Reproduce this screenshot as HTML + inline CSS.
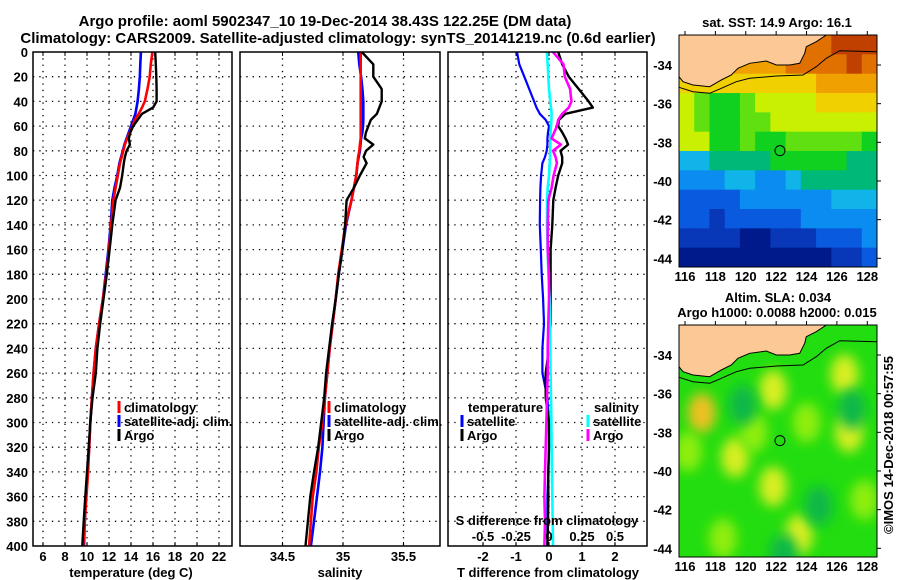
<!DOCTYPE html>
<html><head><meta charset="utf-8"><style>
html,body{margin:0;padding:0;background:#fff;}
svg{display:block;font-family:"Liberation Sans",sans-serif;font-weight:bold;}
text{font-size:13px;fill:#000;}
</style></head><body>
<svg id="fig" width="900" height="580" viewBox="0 0 900 580" xmlns="http://www.w3.org/2000/svg">
<text x="325" y="26" text-anchor="middle" style="font-size:15px">Argo profile: aoml 5902347_10 19-Dec-2014 38.43S 122.25E (DM data)</text>
<text x="338" y="43" text-anchor="middle" style="font-size:15px">Climatology: CARS2009. Satellite-adjusted climatology: synTS_20141219.nc (0.6d earlier)</text>
<g id="plots"></g>
</svg>
<script>
const depths=[0,10,20,30,40,45,50,55,60,65,70,75,80,85,90,100,110,120,140,160,180,200,220,240,260,280,300,320,340,360,380,400];
const tempClim=[15.95,15.8,15.7,15.5,15.25,15.0,14.7,14.35,14.15,13.9,13.65,13.45,13.3,13.15,13.0,12.8,12.6,12.4,12.2,12.0,11.75,11.45,11.1,10.8,10.6,10.45,10.3,10.2,10.1,9.95,9.8,9.65];
const tempSat=[14.9,14.85,14.8,14.72,14.6,14.5,14.4,14.2,14.0,13.8,13.6,13.4,13.25,13.1,12.95,12.75,12.5,12.3,12.15,11.95,11.7,11.45,11.1,10.8,10.6,10.45,10.3,10.2,10.05,9.9,9.8,9.73];
const tempArgo=[16.2,16.25,16.3,16.33,16.33,16.0,15.0,14.6,14.2,13.95,13.8,13.9,13.6,13.45,13.35,13.2,13.0,12.6,12.3,12.05,11.8,11.5,11.2,10.95,10.8,10.5,10.3,10.15,10.0,9.85,9.7,9.57];
const salClim=[35.146,35.146,35.146,35.146,35.146,35.146,35.146,35.146,35.146,35.146,35.146,35.14,35.135,35.125,35.12,35.11,35.09,35.07,35.02,34.99,34.96,34.94,34.915,34.89,34.87,34.85,34.83,34.8,34.78,34.75,34.735,34.72];
const salSat=[35.126,35.135,35.15,35.16,35.168,35.168,35.168,35.168,35.165,35.16,35.15,35.145,35.14,35.13,35.12,35.11,35.09,35.07,35.025,34.995,34.965,34.94,34.915,34.89,34.87,34.85,34.84,34.83,34.81,34.785,34.76,34.735];
const salArgo=[35.155,35.25,35.25,35.32,35.32,35.3,35.28,35.23,35.21,35.19,35.18,35.25,35.19,35.17,35.195,35.14,35.09,35.03,35.017,34.995,34.965,34.94,34.91,34.885,34.86,34.845,34.82,34.795,34.76,34.73,34.71,34.69];
const dTSat=[-0.97,-0.9,-0.75,-0.6,-0.45,-0.38,-0.28,-0.1,0,-0.03,-0.05,-0.05,-0.07,-0.12,-0.2,-0.24,-0.26,-0.27,-0.28,-0.25,-0.22,-0.18,-0.15,-0.2,-0.2,-0.05,0,0,-0.02,-0.05,-0.05,-0.05];
const dTArgo=[0.28,0.4,0.6,0.9,1.2,1.33,0.5,0.3,0.28,0.4,0.5,0.58,0.35,0.4,0.4,0.28,0.2,0.13,0.1,0.05,0.05,0.05,0.05,0.0,-0.1,-0.1,0.0,0.0,-0.02,-0.02,-0.03,-0.05];
const dSSat=[-0.017,-0.01,-0.005,0.0,0.01,0.015,0.02,0.018,0.015,0.012,0.01,0.01,0.01,0.008,0.005,0.0,-0.01,-0.015,-0.015,-0.01,-0.005,0.005,0.008,0.01,0.012,0.015,0.018,0.02,0.022,0.025,0.028,0.03];
const dSArgo=[0.03,0.11,0.12,0.16,0.17,0.15,0.1,0.07,0.06,0.04,0.02,0.09,0.03,0.05,0.06,0.035,0.02,-0.005,-0.01,-0.01,0.0,0.0,-0.005,-0.01,-0.01,-0.015,-0.02,-0.025,-0.03,-0.035,-0.03,-0.035];
const depthTicks=[0,20,40,60,80,100,120,140,160,180,200,220,240,260,280,300,320,340,360,380,400];
const tempTicks=[6,8,10,12,14,16,18,20,22];
const salTicks=[34.5,35,35.5];
const salTickLabels=["34.5","35","35.5"];
const dTTicks=[-2,-1,0,1,2];
const dSTicks=[-0.5,-0.25,0,0.25,0.5];
const dSTickLabels=["-0.5","-0.25","0","0.25","0.5"];
const lonTicks=[116,118,120,122,124,126,128];
const latTicks=[-34,-36,-38,-40,-42,-44];
const sstGrid=[
[10,10,10,10,10,10,10,10,11,11,12,12,12],
[10,10,10,10,10,10,10,11,11,11,11,12,11],
[9,9,9,9,9,9,9,9,9,10,10,10,10],
[8,7,6,6,7,8,8,8,8,9,9,9,9],
[8,7,6,6,7,7,8,8,8,8,8,8,8],
[8,8,6,6,7,6,6,7,7,7,7,7,6],
[4,4,5,5,5,5,6,6,6,6,6,5,5],
[3,3,3,4,4,3,3,4,5,5,5,5,5],
[2,2,2,2,3,3,3,3,3,3,4,4,4],
[2,2,1,2,2,2,2,2,3,3,3,3,3],
[1,1,1,1,0,0,1,1,1,2,2,2,3],
[0,0,0,0,0,0,0,0,0,0,1,1,2]];
const slaBlobLon=[117.1,121.8,126.5,126.8,119.3,121.8,123.5,116.2,124.0,120.5,127.8,118.5,119.8,124.8,122.5,127.0];
const slaBlobLat=[-37.0,-35.8,-35.0,-38.0,-39.3,-40.8,-43.3,-39.0,-37.5,-38.0,-41.5,-43.5,-36.6,-41.8,-44.3,-36.8];
const slaBlobVal=[3,2,2,2,2,2,2,1,1,1,1,1,0,0,0,0];
const profLon=122.25, profLat=-38.43;

const NS="http://www.w3.org/2000/svg";
const root=document.getElementById('plots');
function mk(tag,attrs,parent){const e=document.createElementNS(NS,tag);for(const k in attrs)e.setAttribute(k,attrs[k]);(parent||root).appendChild(e);return e;}
const Y0=52,Y1=546;
const yD=d=>Y0+d*(Y1-Y0)/400;
const xT=t=>43+(t-6)*11;
const xS=s=>343+(s-35)*121;
const xDT=v=>549+v*33;
const xDS=v=>549+v*132;

function panel(x0,x1,name){
  const g=mk('g',{});
  
  
  return g;
}
function frame(g,x0,x1,gridXs){
  depthTicks.forEach(d=>{if(d>0&&d<400){const l=mk('line',{x1:x0,x2:x1,y1:yD(d),y2:yD(d),stroke:'#000','stroke-width':1.3,'stroke-dasharray':'1.3 5'},g);
  
  }});
  gridXs.forEach(x=>{const l=mk('line',{x1:x,x2:x,y1:Y0,y2:Y1,stroke:'#000','stroke-width':1.3,'stroke-dasharray':'1.3 5'},g);
  
  
  mk('line',{x1:x,x2:x,y1:Y0,y2:Y0+4,stroke:'#000'},g);mk('line',{x1:x,x2:x,y1:Y1,y2:Y1-4,stroke:'#000'},g);});
}
function border(g,x0,x1){const r=mk('rect',{x:x0,y:Y0,width:x1-x0,height:Y1-Y0,fill:'none',stroke:'#000','stroke-width':1.5},g);

}
function line(g,xs,xf,color,w,name){
  const pts=xs.map((v,i)=>xf(v).toFixed(1)+','+yD(depths[i]).toFixed(1)).join(' ');
  const p=mk('polyline',{points:pts,fill:'none',stroke:color,'stroke-width':w,'stroke-linejoin':'round'},g);
  
  
}
function txt(g,x,y,s,anchor,name,size){const t=mk('text',{x:x,y:y,'text-anchor':anchor||'start'},g);t.textContent=s;if(size)t.style.fontSize=size+'px';

return t;}
function legendMark(g,x,y,color){const l=mk('line',{x1:x,x2:x,y1:y-12,y2:y,stroke:color,'stroke-width':3},g);

}

const p1=panel(33,232,'temperature-panel');
frame(p1,33,232,tempTicks.map(xT));
line(p1,tempSat,xT,'#0000ff',2.6,'temperature-satellite-line');
line(p1,tempClim,xT,'#ff0000',2.6,'temperature-climatology-line');
line(p1,tempArgo,xT,'#000',2.4,'temperature-argo-line');
border(p1,33,232);
depthTicks.forEach(d=>txt(p1,28,yD(d)+5,String(d),'end','depth-tick-label'));
tempTicks.forEach(t=>txt(p1,xT(t),561,String(t),'middle','temperature-tick-label'));
txt(p1,131,577,'temperature (deg C)','middle','temperature-axis-title');
[['climatology','#f00'],['satellite-adj. clim.','#00f'],['Argo','#000']].forEach((e,i)=>{legendMark(p1,119,413+i*14,e[1]);txt(p1,124,412+i*14,e[0],'start','legend-entry');});

const p2=panel(240,440,'salinity-panel');
frame(p2,240,440,salTicks.map(xS));
line(p2,salSat,xS,'#0000ff',2.6,'salinity-satellite-line');
line(p2,salClim,xS,'#ff0000',2.6,'salinity-climatology-line');
line(p2,salArgo,xS,'#000',2.4,'salinity-argo-line');
border(p2,240,440);
salTicks.forEach((s,i)=>txt(p2,xS(s),561,salTickLabels[i],'middle','salinity-tick-label'));
txt(p2,340,577,'salinity','middle','salinity-axis-title');
[['climatology','#f00'],['satellite-adj. clim.','#00f'],['Argo','#000']].forEach((e,i)=>{legendMark(p2,329,413+i*14,e[1]);txt(p2,334,412+i*14,e[0],'start','legend-entry');});

const p3=panel(448,647,'difference-panel');
frame(p3,448,647,dTTicks.map(xDT));
line(p3,dTSat,xDT,'#0000ff',2.2,'temp-diff-satellite-line');
line(p3,dTArgo,xDT,'#000',2.4,'temp-diff-argo-line');
line(p3,dSSat,xDS,'#00ffff',2.6,'sal-diff-satellite-line');
line(p3,dSArgo,xDS,'#ff00ff',2.6,'sal-diff-argo-line');
border(p3,448,647);
dTTicks.forEach(t=>txt(p3,xDT(t),561,String(t),'middle','temp-diff-tick-label'));
txt(p3,548,577,'T difference from climatology','middle','temp-diff-axis-title');
txt(p3,547,525,'S difference from climatology','middle','sal-diff-axis-title');
dSTicks.forEach((s,i)=>txt(p3,xDS(s),541,dSTickLabels[i],'middle','sal-diff-tick-label'));
txt(p3,468,412,'temperature','start','legend-header-temperature');
txt(p3,594,412,'salinity','start','legend-header-salinity');
legendMark(p3,462,427,'#00f');txt(p3,467,426,'satellite','start','legend-entry');
legendMark(p3,462,441,'#000');txt(p3,467,440,'Argo','start','legend-entry');
legendMark(p3,588,427,'#0ff');txt(p3,593,426,'satellite','start','legend-entry');
legendMark(p3,588,441,'#f0f');txt(p3,593,440,'Argo','start','legend-entry');

const MX0=679,MX1=877;
const lonX=l=>685+(l-116)*(867.3-685)/12;
const sstColors=['#001a8c','#0838b8','#0a5ae0','#0a8cf0','#10b4e8','#00b878','#10d020','#60e010','#c8f000','#f0d000','#f0a000','#e07000','#c04000'];
function map(top,name){
  const lat=v=>top+30+(-34-v)*19.33;
  const g=mk('g',{});
  
  
  return {g,lat,top,bot:top+232};
}
function coast(m){
  const cp=[[0,41.7],[4,46.7],[14,50],[30.7,51.7],[42.3,45],[52.3,40],[59,33.3],[70.7,28.3],[87.3,26],[97.3,30],[110.7,30],[120.7,28.3],[125.7,18.3],[127.3,11.7],[137.3,6.7],[147.3,0]];
  const pts=cp.map(p=>(MX0+p[0])+','+(m.top+p[1])).join(' ');
  const land=mk('polygon',{points:MX0+','+m.top+' '+pts,fill:'#fcc896',stroke:'#000','stroke-width':1},m.g);
  
  
  const cl=[[0,52.3],[14,56.7],[30.7,58.3],[42.3,53.3],[57.3,46.7],[70.7,43.3],[97.3,41],[124,40],[137.3,31.7],[147.3,23.3],[160.7,15.7],[198,16.7]];
  const c=mk('polyline',{points:cl.map(p=>(MX0+p[0])+','+(m.top+p[1])).join(' '),fill:'none',stroke:'#000','stroke-width':1},m.g);
  
  
}
function mapAxes(m){
  const f=mk('rect',{x:MX0,y:m.top,width:MX1-MX0,height:232,fill:'none',stroke:'#000','stroke-width':1},m.g);
  
  
  latTicks.forEach(v=>{txt(m.g,672,m.lat(v)+5,String(v),'end','latitude-tick-label');mk('line',{x1:MX1,x2:MX1+4,y1:m.lat(v),y2:m.lat(v),stroke:'#000'},m.g);});
  lonTicks.forEach(v=>{txt(m.g,lonX(v),m.bot+14,String(v),'middle','longitude-tick-label');mk('line',{x1:lonX(v),x2:lonX(v),y1:m.top,y2:m.top-4,stroke:'#000'},m.g);});
  const c=mk('circle',{cx:lonX(profLon),cy:m.lat(profLat),r:5,fill:'none',stroke:'#000','stroke-width':1},m.g);
  
  
}
const m1=map(35,'sst-map');
const cw=(MX1-MX0)/13;
sstGrid.forEach((row,r)=>row.forEach((v,c)=>{
  const y0=m1.lat(-32.45-r), y1=r==11?m1.bot:m1.lat(-33.45-r);
  const cell=mk('rect',{x:MX0+c*cw,y:Math.max(m1.top,y0),width:cw+0.5,height:y1-Math.max(m1.top,y0)+0.5,fill:sstColors[v]},m1.g);
  
  
}));
coast(m1);mapAxes(m1);
txt(m1.g,777,27,'sat. SST: 14.9 Argo: 16.1','middle','sst-map-title');
const m2=map(325,'sla-map');
const defs=mk('defs',{});
const flt=mk('filter',{id:'blur',x:'-50%',y:'-50%',width:'200%',height:'200%'},defs);
mk('feGaussianBlur',{stdDeviation:6},flt);
const cp=mk('clipPath',{id:'slaclip'},defs);
mk('rect',{x:MX0,y:325,width:MX1-MX0,height:232},cp);
const bg=mk('rect',{x:MX0,y:325,width:MX1-MX0,height:232,fill:'#22dd10'},m2.g);


const bl=mk('g',{'clip-path':'url(#slaclip)'},m2.g);
const blobCol=['#10b848','#90ee10','#d8ee20','#f0c020'];
slaBlobLon.forEach((lo,i)=>{const e=mk('ellipse',{cx:lonX(lo),cy:m2.lat(slaBlobLat[i]),rx:14,ry:20,fill:blobCol[slaBlobVal[i]],filter:'url(#blur)'},bl);

});
coast(m2);mapAxes(m2);
txt(m2.g,778,302,'Altim. SLA: 0.034','middle','sla-map-title');
txt(m2.g,777,317,'Argo h1000: 0.0088 h2000: 0.015','middle','sla-map-subtitle');
const stamp=txt(root,0,0,'©IMOS 14-Dec-2018 00:57:55','middle','timestamp-label');
stamp.setAttribute('transform','translate(893,445) rotate(-90)');
</script>
</body></html>
